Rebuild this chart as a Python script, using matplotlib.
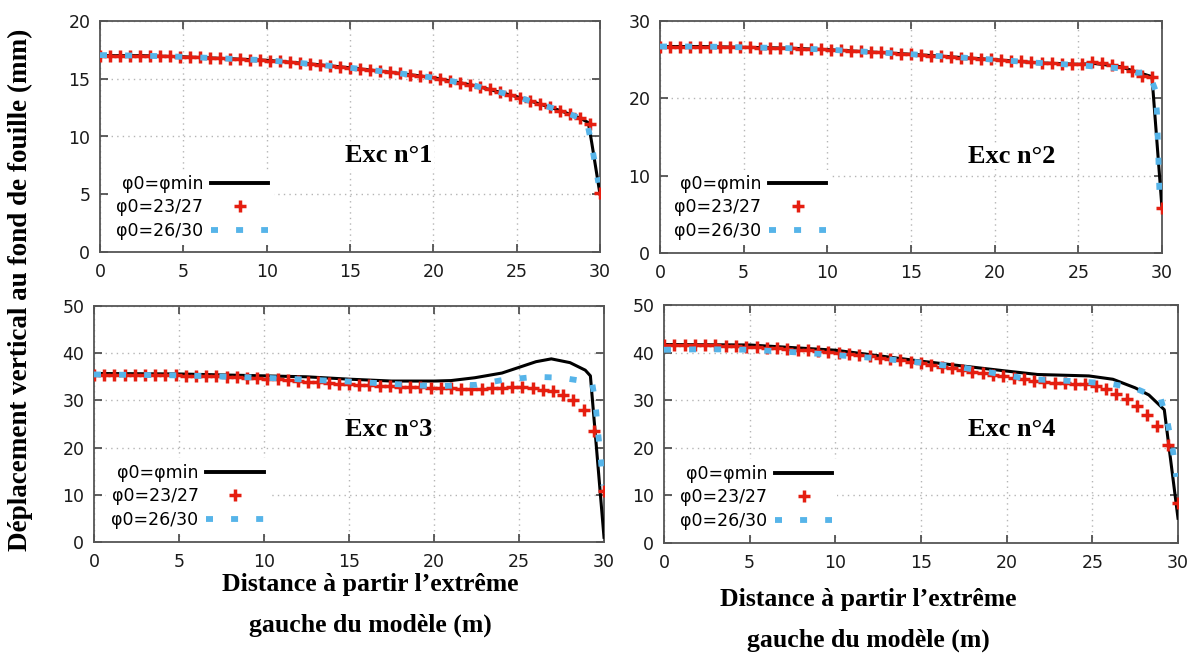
import matplotlib
matplotlib.use('Agg')
import matplotlib.pyplot as plt
from matplotlib.lines import Line2D

# stations where the 23/27 case was sampled (m)
X_RED = [0, 0.6, 1.2, 1.8, 2.4, 3.0, 3.6, 4.2, 4.8, 5.4, 6.0, 6.6, 7.2, 7.8, 8.4, 9.0, 9.6,
         10.2, 10.8, 11.4, 12.0, 12.6, 13.2, 13.8, 14.4, 15.0, 15.6, 16.2, 16.8, 17.4, 18.0,
         18.6, 19.2, 19.8, 20.4, 21.0, 21.6, 22.2, 22.8, 23.4, 24.0, 24.6, 25.2, 25.8, 26.4,
         27.0, 27.6, 28.2, 28.8, 29.4, 30.0]

# Exc n°1
exc1_red = [17.0, 17.0, 17.0, 17.0, 17.0, 16.98, 16.95, 16.93, 16.9, 16.88, 16.84, 16.8, 16.77,
            16.73, 16.7, 16.66, 16.62, 16.58, 16.51, 16.44, 16.37, 16.29, 16.2, 16.12, 16.04,
            15.95, 15.86, 15.76, 15.67, 15.57, 15.47, 15.36, 15.25, 15.14, 14.99, 14.84, 14.67,
            14.5, 14.3, 14.1, 13.87, 13.62, 13.36, 13.1, 12.83, 12.55, 12.25, 11.95, 11.6, 11.1, 5.1]
exc1_black_x = [0, 2.5, 5, 7.5, 10, 12.5, 15, 17.5, 20, 22.5, 25, 27.5, 28.8, 29.3, 29.5, 30]
exc1_black = [17.0, 17.0, 16.9, 16.75, 16.6, 16.3, 15.95, 15.55, 15.1, 14.4, 13.45, 12.3, 11.6, 11.2, 9.5, 5.0]
exc1_blue_x = [0, 2.5, 5, 7.5, 10, 12.5, 15, 17.5, 20, 22.5, 25, 27.5, 28.8, 29.2, 29.5, 29.9]
exc1_blue = [17.05, 17.0, 16.9, 16.75, 16.6, 16.3, 15.95, 15.55, 15.1, 14.4, 13.45, 12.3, 11.6, 11.4, 9.3, 6.0]

# Exc n°2
exc2_red = [26.7, 26.7, 26.7, 26.7, 26.7, 26.68, 26.66, 26.64, 26.62, 26.6, 26.57, 26.53, 26.5,
            26.46, 26.42, 26.38, 26.33, 26.28, 26.21, 26.14, 26.07, 26.0, 25.93, 25.85, 25.77,
            25.7, 25.62, 25.53, 25.45, 25.37, 25.28, 25.2, 25.12, 25.03, 24.95, 24.86, 24.77,
            24.67, 24.6, 24.56, 24.5, 24.45, 24.5, 24.65, 24.55, 24.35, 24.1, 23.5, 22.9, 22.8, 5.8]
exc2_black_x = [0, 2.5, 5, 7.5, 10, 12.5, 15, 17.5, 20, 22.5, 25, 26, 27.5, 28.5, 29.4, 30]
exc2_black = [26.7, 26.7, 26.6, 26.5, 26.3, 26.0, 25.7, 25.35, 25.0, 24.6, 24.4, 24.5, 24.1, 23.4, 22.8, 5.8]
exc2_blue_x = [0, 2.5, 5, 7.5, 10, 12.5, 15, 17.5, 20, 22.5, 25, 26.5, 27.5, 28.5, 29.2, 29.6, 29.7, 29.85]
exc2_blue = [26.7, 26.7, 26.6, 26.5, 26.3, 26.0, 25.7, 25.35, 25.0, 24.6, 24.3, 24.0, 23.9, 23.3, 23.4, 21.1, 18.1, 7.7]

# Exc n°3
exc3_red = [35.4, 35.4, 35.4, 35.4, 35.38, 35.36, 35.34, 35.32, 35.3, 35.27, 35.22, 35.16, 35.08,
            34.98, 34.88, 34.78, 34.67, 34.56, 34.43, 34.29, 34.14, 33.99, 33.84, 33.69, 33.54,
            33.4, 33.3, 33.2, 33.1, 33.0, 32.92, 32.83, 32.74, 32.65, 32.58, 32.53, 32.5, 32.5,
            32.52, 32.58, 32.65, 32.75, 32.8, 32.7, 32.3, 31.9, 31.1, 30.0, 28.0, 23.6, 10.7]
exc3_black_x = [0, 5, 10, 12.5, 15, 17.5, 20, 21, 22.4, 24, 25, 26, 26.9, 28, 28.9, 29.2, 30]
exc3_black = [35.7, 35.6, 35.2, 35.0, 34.5, 34.1, 34.1, 34.2, 34.8, 35.8, 37.0, 38.2, 38.8, 38.0, 36.4, 35.2, 1.0]
exc3_blue_x = [0, 5, 10, 15, 17.5, 20, 22.5, 24, 26, 27.5, 29.3, 29.5, 29.65, 29.8, 29.95]
exc3_blue = [35.5, 35.3, 34.8, 34.0, 33.5, 33.0, 33.3, 34.3, 35.0, 34.8, 33.8, 29.3, 23.3, 18.0, 12.0]

# Exc n°4
exc4_red = [41.6, 41.7, 41.7, 41.6, 41.55, 41.5, 41.4, 41.3, 41.25, 41.15, 41.05, 40.95, 40.8,
            40.65, 40.5, 40.35, 40.15, 39.95, 39.7, 39.45, 39.2, 38.95, 38.65, 38.35, 38.05,
            37.75, 37.4, 37.05, 36.7, 36.35, 36.0, 35.7, 35.35, 35.0, 34.7, 34.4, 34.1, 33.85,
            33.7, 33.6, 33.5, 33.35, 33.0, 32.3, 31.4, 30.2, 28.8, 26.9, 24.5, 20.6, 8.5]
exc4_black_x = [0, 5, 10, 15, 19.8, 21.8, 24.8, 26.2, 27.5, 28.3, 29.2, 30]
exc4_black = [41.7, 41.6, 40.5, 38.2, 36.2, 35.4, 35.1, 34.4, 32.6, 31.1, 28.0, 5.2]
exc4_blue_x = [0, 2.5, 5, 7.5, 9.2, 12.5, 15, 17.5, 19.9, 21.4, 22.9, 24.4, 26.0, 27.5, 29.0, 29.4, 29.7, 29.9]
exc4_blue = [40.6, 40.7, 40.6, 40.1, 39.7, 38.8, 37.9, 36.8, 35.3, 34.4, 34.2, 33.9, 33.5, 32.5, 30.2, 25.2, 19.5, 13.9]

LABELS = ["φ0=φmin", "φ0=23/27", "φ0=26/30"]
TITLES = ["Exc n°1", "Exc n°2", "Exc n°3", "Exc n°4"]

BLACK = '#000000'
RED = '#e51e10'
BLUE = '#56b4e9'
SERIF = 'Liberation Serif'

W, H = 1194, 661
fig = plt.figure(figsize=(W / 100, H / 100), dpi=100)


def px_box(l, r, t, b):
    return [l / W, 1 - b / H, (r - l) / W, (b - t) / H]


panels = [
    dict(box=px_box(100, 600, 21, 252), ymax=20, ystep=5, red=exc1_red,
         bx=exc1_black_x, by=exc1_black, ux=exc1_blue_x, uy=exc1_blue,
         title_xy=(0.578, 0.416), leg_xy=(0.022, 0.03)),
    dict(box=px_box(660, 1162, 21, 253), ymax=30, ystep=10, red=exc2_red,
         bx=exc2_black_x, by=exc2_black, ux=exc2_blue_x, uy=exc2_blue,
         title_xy=(0.701, 0.418), leg_xy=(0.018, 0.034)),
    dict(box=px_box(94, 604, 306, 542), ymax=50, ystep=10, red=exc3_red,
         bx=exc3_black_x, by=exc3_black, ux=exc3_blue_x, uy=exc3_blue,
         title_xy=(0.578, 0.475), leg_xy=(0.024, 0.034)),
    dict(box=px_box(664, 1178, 305, 543), ymax=50, ystep=10, red=exc4_red,
         bx=exc4_black_x, by=exc4_black, ux=exc4_blue_x, uy=exc4_blue,
         title_xy=(0.677, 0.475), leg_xy=(0.021, 0.034)),
]

for i, p in enumerate(panels):
    ax = fig.add_axes(p['box'])
    ax.plot(p['bx'], p['by'], color=BLACK, lw=2.2, zorder=3)
    ax.plot(X_RED, p['red'], linestyle='none', marker='+', ms=8.5, mew=2.5,
            color=RED, zorder=4)
    ax.plot(p['ux'], p['uy'], color=BLUE, lw=4.2, dashes=(1.2, 3.1),
            dash_capstyle='butt', zorder=5)

    ax.set_xlim(0, 30)
    ax.set_ylim(0, p['ymax'])
    ax.set_xticks(range(0, 31, 5))
    ax.set_yticks(range(0, p['ymax'] + 1, p['ystep']))
    ax.grid(True, color='#b5b5b5', lw=1.0, linestyle=(0, (1, 3)))
    ax.set_axisbelow(True)
    ax.tick_params(direction='in', length=6, width=1.2, color='#444444',
                   top=True, right=True, labelsize=12.5, labelcolor='#1a1a1a')
    ax.tick_params(axis='x', pad=8)
    ax.tick_params(axis='y', pad=7)
    for s in ax.spines.values():
        s.set_color('#555555')
        s.set_linewidth(1.3)

    ax.text(p['title_xy'][0], p['title_xy'][1], TITLES[i], transform=ax.transAxes,
            ha='center', va='center', family=SERIF, weight='bold', fontsize=19,
            bbox=dict(facecolor='white', edgecolor='none', pad=1), zorder=2)

    handles = [
        Line2D([], [], color=BLACK, lw=2.8),
        Line2D([], [], color=RED, linestyle='none', marker='+', ms=8.5, mew=2.5),
        Line2D([], [], color=BLUE, lw=4.2, dashes=(1.2, 3.1), dash_capstyle='butt'),
    ]
    leg = ax.legend(handles, LABELS, loc='lower left', bbox_to_anchor=p['leg_xy'],
                    borderaxespad=0, markerfirst=False, handlelength=3.3,
                    handletextpad=0.45, labelspacing=0.32, borderpad=0.3,
                    fontsize=12.5, frameon=True, fancybox=False, framealpha=1,
                    facecolor='white', edgecolor='none')
    # gnuplot style key: labels right-aligned next to the samples
    for col in leg._legend_handle_box.get_children():
        col.align = 'right'

fig.text(20 / W, 1 - 290 / H, "Déplacement vertical au fond de fouille (mm)",
         rotation=90, ha='center', va='center', family=SERIF, weight='bold', fontsize=19.5)

xlab = "Distance à partir l’extrême\ngauche du modèle (m)"
fig.text(370 / W, 1 - 605 / H, xlab, ha='center', va='center', family=SERIF,
         weight='bold', fontsize=18.5, linespacing=2.0)
fig.text(868 / W, 1 - 620 / H, xlab, ha='center', va='center', family=SERIF,
         weight='bold', fontsize=18.5, linespacing=2.0)

fig.savefig('out.png', dpi=100)
